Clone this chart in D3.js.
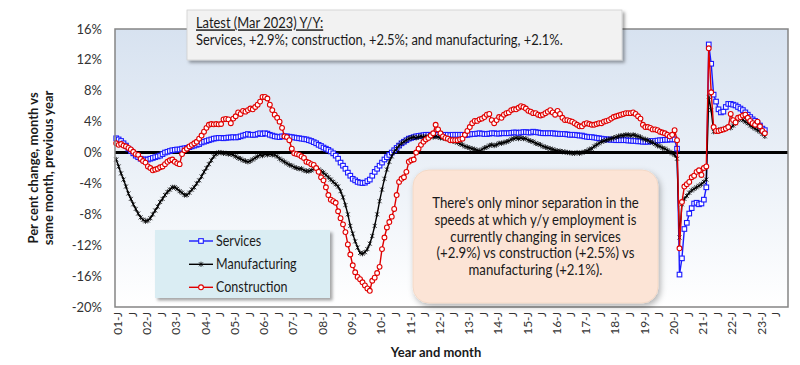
<!DOCTYPE html>
<html><head><meta charset="utf-8">
<script src="https://cdn.jsdelivr.net/npm/d3@7"></script>
<style>body{margin:0;background:#fff;} svg{display:block;font-family:Lato,"Open Sans",sans-serif;}</style>
</head><body><svg id="c" width="800" height="365"></svg>
<script>
// Monthly y/y % change, Jan 2001 .. Mar 2023
const services=[
1.85,1.7,1.5,1.2,0.9,0.5,0.2,-0.1,-0.4,-0.6,
-0.8,-0.9,-0.9,-0.9,-0.8,-0.7,-0.6,-0.5,-0.4,-0.2,
0.0,0.1,0.2,0.3,0.35,0.4,0.4,0.5,0.55,0.6,
0.7,0.8,0.9,1.0,1.1,1.3,1.4,1.5,1.6,1.7,
1.8,1.85,1.9,1.9,1.85,1.9,1.95,1.95,2.0,1.95,
2.0,2.1,2.2,2.3,2.4,2.3,2.3,2.3,2.4,2.5,
2.4,2.5,2.45,2.3,2.2,2.1,2.05,2.0,2.1,2.1,
2.1,2.05,2.0,1.95,1.9,1.85,1.8,1.75,1.7,1.6,
1.5,1.35,1.2,1.0,0.85,0.65,0.5,0.35,0.15,-0.1,
-0.4,-0.8,-1.3,-1.7,-2.1,-2.6,-3.0,-3.4,-3.6,-3.8,
-3.9,-3.95,-3.9,-3.7,-3.5,-3.0,-2.5,-2.1,-1.7,-1.3,
-0.9,-0.6,-0.3,0.0,0.3,0.6,0.9,1.2,1.4,1.6,
1.8,1.9,2.0,2.1,2.15,2.2,2.25,2.3,2.3,2.3,
2.3,2.35,2.3,2.3,2.25,2.3,2.3,2.25,2.3,2.3,
2.3,2.3,2.3,2.25,2.3,2.35,2.4,2.4,2.45,2.5,
2.45,2.4,2.4,2.45,2.5,2.5,2.45,2.45,2.5,2.5,
2.5,2.5,2.55,2.6,2.6,2.55,2.6,2.65,2.65,2.6,
2.6,2.7,2.65,2.6,2.55,2.5,2.5,2.5,2.5,2.5,
2.45,2.45,2.4,2.4,2.4,2.35,2.3,2.3,2.3,2.25,
2.2,2.2,2.1,2.05,2.0,2.0,1.95,1.9,1.85,1.8,
1.75,1.7,1.7,1.65,1.65,1.6,1.6,1.6,1.6,1.6,
1.55,1.55,1.5,1.5,1.45,1.45,1.4,1.4,1.4,1.45,
1.5,1.5,1.55,1.6,1.6,1.65,1.65,1.7,1.7,1.7,
0.5,-15.8,-13.7,-9.9,-9.1,-7.9,-7.2,-6.6,-6.5,-6.7,
-6.6,-6.1,-4.5,14.0,11.5,7.5,6.6,5.6,5.2,5.3,
5.9,6.3,6.3,6.2,6.1,5.9,5.7,5.5,5.2,4.9,
4.6,4.3,4.1,3.8,3.5,3.1,2.9];
const manufacturing=[
-0.9,-1.8,-2.7,-3.5,-4.4,-5.3,-6.0,-6.7,-7.3,-7.9,
-8.4,-8.7,-8.9,-8.8,-8.5,-8.0,-7.5,-7.0,-6.4,-6.0,
-5.5,-5.1,-4.8,-4.5,-4.5,-4.7,-5.0,-5.2,-5.5,-5.5,
-5.2,-4.8,-4.5,-4.0,-3.6,-3.1,-2.5,-2.0,-1.5,-1.0,
-0.5,-0.2,0.0,0.0,-0.1,-0.1,-0.2,-0.2,-0.3,-0.5,
-0.7,-0.8,-1.0,-1.1,-1.2,-1.1,-0.9,-0.7,-0.5,-0.3,
-0.4,-0.2,-0.3,-0.2,-0.3,-0.3,-0.5,-0.8,-1.0,-1.2,
-1.4,-1.6,-1.7,-1.9,-2.0,-2.1,-2.1,-2.3,-2.4,-2.4,
-2.3,-2.1,-2.0,-2.2,-2.4,-2.6,-2.9,-3.2,-3.5,-3.8,
-4.1,-4.4,-5.0,-5.8,-6.8,-8.0,-9.5,-10.5,-11.5,-12.3,
-13.0,-13.1,-12.9,-12.5,-11.8,-10.8,-9.5,-8.0,-6.3,-4.8,
-3.4,-2.2,-1.2,-0.5,0.1,0.5,0.9,1.2,1.4,1.6,
1.8,1.9,2.0,1.9,2.0,2.1,2.0,2.1,2.0,2.1,
2.0,2.1,2.0,1.9,1.9,1.8,1.8,1.7,1.5,1.4,
1.3,1.1,1.0,0.8,0.7,0.6,0.5,0.4,0.3,0.2,
0.4,0.6,0.7,0.9,1.0,0.9,1.0,1.2,1.2,1.3,
1.4,1.5,1.7,1.8,1.9,1.8,1.9,1.8,1.8,1.6,
1.5,1.4,1.2,1.1,1.0,0.8,0.7,0.6,0.5,0.4,
0.3,0.2,0.2,0.1,0.1,0.0,0.0,-0.1,-0.1,0.0,
-0.1,0.0,0.1,0.2,0.4,0.5,0.8,1.0,1.2,1.4,
1.5,1.6,1.7,1.8,1.9,2.0,2.1,2.2,2.2,2.3,
2.3,2.2,2.3,2.2,2.1,2.0,1.8,1.7,1.6,1.4,
1.3,1.1,0.9,0.8,0.6,0.5,0.3,0.1,-0.1,-0.3,
-0.8,-11.0,-6.7,-6.0,-5.6,-5.2,-4.9,-4.7,-4.5,-4.3,
-4.1,-3.8,-3.5,7.2,5.5,2.7,2.8,2.9,3.0,3.0,
3.2,3.3,3.2,3.5,3.8,4.2,4.4,4.2,4.0,3.8,
3.5,3.3,3.1,2.9,2.7,2.4,2.1];
const construction=[
1.2,1.0,1.1,0.9,0.8,0.6,0.4,0.1,-0.2,-0.3,
-0.8,-1.1,-1.3,-1.8,-2.0,-2.3,-2.2,-2.1,-1.9,-1.8,
-1.5,-1.2,-1.0,-0.9,-1.2,-1.4,-1.5,-0.2,0.3,0.5,
0.8,1.0,1.2,1.4,1.8,2.2,2.7,3.2,3.6,3.7,
3.65,3.7,3.65,3.7,4.3,4.35,4.3,3.8,4.4,4.7,
5.2,5.0,5.4,5.3,5.5,5.7,5.6,5.9,6.2,6.6,
7.2,7.2,7.0,6.2,5.5,4.9,4.5,4.0,3.2,2.1,
2.0,1.6,0.5,-0.1,-0.2,-0.3,-0.5,-0.7,-1.2,-1.3,
-1.5,-1.6,-2.0,-2.5,-3.2,-3.6,-4.5,-5.5,-6.1,-6.3,
-6.5,-7.6,-8.5,-9.3,-10.3,-11.9,-13.2,-14.6,-15.5,-16.1,
-16.4,-16.8,-17.2,-17.6,-17.9,-16.6,-16.2,-15.6,-14.8,-12.5,
-11.0,-9.7,-9.0,-8.3,-7.3,-5.5,-3.8,-3.4,-3.2,-2.5,
-1.2,-1.0,-0.9,0.0,0.5,1.0,1.4,1.7,1.9,2.2,
2.5,3.6,3.0,2.5,2.1,1.9,1.8,1.6,1.6,1.6,
1.6,1.7,1.8,2.3,2.8,3.3,3.8,4.1,4.1,4.3,
4.4,4.6,4.9,5.0,4.2,3.8,4.2,4.6,4.5,4.9,
5.1,5.2,5.5,5.6,5.6,5.8,6.0,5.9,5.7,5.4,
5.3,5.1,5.1,4.9,4.8,4.9,5.1,5.3,5.5,5.2,
4.9,5.4,5.0,4.5,4.2,4.2,4.1,4.0,3.8,3.6,
3.4,3.4,3.7,3.8,3.7,3.6,3.6,3.7,3.8,3.8,
4.0,4.1,4.2,4.4,4.6,4.7,4.8,4.9,5.0,5.1,
5.1,5.1,5.2,5.0,4.7,4.4,3.6,3.3,3.3,3.2,
3.0,3.0,2.9,2.7,2.6,2.5,2.3,2.1,2.3,2.9,
1.6,-12.4,-6.4,-4.4,-4.1,-3.8,-3.2,-3.0,-2.5,-2.3,
-2.9,-2.0,-1.8,13.5,7.8,3.3,2.8,2.8,2.9,3.0,
3.1,3.3,5.0,4.2,3.9,4.5,4.6,4.8,4.9,4.5,
4.1,3.8,3.6,4.0,3.4,2.8,2.5];
const xTickLabels=["01-J","J","02-J","J","03-J","J","04-J","J","05-J","J","06-J","J",
"07-J","J","08-J","J","09-J","J","10-J","J","11-J","J","12-J","J","13-J","J","14-J","J",
"15-J","J","16-J","J","17-J","J","18-J","J","19-J","J","20-J","J","21-J","J","22-J","J","23-J","J"];
const yTicks=[16,12,8,4,0,-4,-8,-12,-16,-20];
const seriesNames=["Services","Manufacturing","Construction"];
const seriesColors=["#1a1aff","#000000","#e00000"];
const titleLines=["Latest (Mar 2023) Y/Y:","Services, +2.9%; construction, +2.5%; and manufacturing, +2.1%."];
const noteLines=["There's only minor separation in the","speeds at which y/y employment is","currently changing in services","(+2.9%) vs construction (+2.5%) vs","manufacturing (+2.1%)."];
const yTitle=["Per cent change, month vs","same month, previous year"];
const xTitle="Year and month";

const svg=d3.select("#c");
const L=115,R=788,T=29,B=307;
const x=d3.scaleLinear().domain([-0.5,275.5]).range([L,R]);
const y=d3.scaleLinear().domain([-20,16]).range([B,T]);

const defs=svg.append("defs");
const g=defs.append("linearGradient").attr("id","bg").attr("x1",0).attr("y1",0).attr("x2",0).attr("y2",1);
g.append("stop").attr("offset","0%").attr("stop-color","#d7e2f0");
g.append("stop").attr("offset","100%").attr("stop-color","#ffffff");
const f=defs.append("filter").attr("id","sh").attr("x","-10%").attr("y","-10%").attr("width","130%").attr("height","140%");
f.append("feDropShadow").attr("dx",2.5).attr("dy",2.5).attr("stdDeviation",1.8).attr("flood-color","#000").attr("flood-opacity",0.35);
const f2=defs.append("filter").attr("id","sh2").attr("x","-10%").attr("y","-10%").attr("width","130%").attr("height","130%");
f2.append("feDropShadow").attr("dx",2).attr("dy",3).attr("stdDeviation",3).attr("flood-color","#000").attr("flood-opacity",0.3);

// horizontally squeeze a group of text so that a reference text gets the target width
function squeeze(groupSel, refNode, target, ox){
  const w=refNode.getComputedTextLength();
  const s=target/w;
  groupSel.attr("transform",`translate(${ox},0) scale(${s},1) translate(${-ox},0)`);
}

// plot area
svg.append("rect").attr("x",L).attr("y",T).attr("width",R-L).attr("height",B-T).attr("fill","url(#bg)");

// y ticks
svg.append("g").selectAll("text").data(yTicks).join("text")
  .attr("x",L-13).attr("y",d=>y(d)).attr("dy","0.35em").attr("text-anchor","end")
  .attr("font-size",13).attr("fill","#333").text(d=>d+"%");

// x ticks
svg.append("g").selectAll("text").data(xTickLabels).join("text")
  .attr("transform",(d,i)=>`translate(${x(i*6)+1.5},${B+5}) rotate(-90)`)
  .attr("dy","0.35em").attr("text-anchor","end").attr("font-size",12).attr("fill","#333").text(d=>d);

// zero line
svg.append("line").attr("x1",L).attr("x2",R).attr("y1",y(0)).attr("y2",y(0)).attr("stroke","#000").attr("stroke-width",3);

const line=d3.line().x((d,i)=>x(i)).y(d=>y(d));
const allSeries=[services,manufacturing,construction];
function marker(gsel,k,px,py){
  if(k===0){
    gsel.append("rect").attr("x",px-2.3).attr("y",py-2.3).attr("width",4.6).attr("height",4.6)
      .attr("fill","#fff").attr("stroke",seriesColors[0]).attr("stroke-width",1.1);
  } else if(k===1){
    gsel.append("path").attr("d",`M${px-2},${py-2}L${px+2},${py+2}M${px-2},${py+2}L${px+2},${py-2}M${px},${py-2.6}L${px},${py+2.6}`)
      .attr("stroke","#000").attr("stroke-width",0.8).attr("fill","none");
  } else {
    gsel.append("circle").attr("cx",px).attr("cy",py).attr("r",2.4)
      .attr("fill","#fff").attr("stroke",seriesColors[2]).attr("stroke-width",1.1);
  }
}
allSeries.forEach((s,k)=>{
  const gs=svg.append("g");
  gs.append("path").datum(s).attr("d",line).attr("fill","none").attr("stroke",seriesColors[k]).attr("stroke-width",1.4);
  s.forEach((v,i)=>marker(gs,k,x(i),y(v)));
});

// frame
svg.append("rect").attr("x",L).attr("y",T).attr("width",R-L).attr("height",B-T).attr("fill","none").attr("stroke","#858585").attr("stroke-width",1.5);

// axis titles
const yt=svg.append("g").attr("font-weight","bold").attr("fill","#1a1a1a");
yTitle.forEach((t,j)=>{
  yt.append("text").attr("transform",`translate(${38+j*15},168) rotate(-90)`).attr("text-anchor","middle").attr("font-size",13).text(t);
});
svg.append("text").attr("x",436).attr("y",357).attr("text-anchor","middle").attr("font-weight","bold").attr("font-size",13).attr("fill","#1a1a1a").text(xTitle);

// title box
svg.append("rect").attr("x",187).attr("y",10).attr("width",435).attr("height",50).attr("fill","#f2f2f2").attr("stroke","#d0d0d0").attr("stroke-width",0.8).attr("filter","url(#sh)");
const tg=svg.append("g").attr("fill","#1a1a1a").attr("font-size",14.5);
tg.append("text").attr("x",196).attr("y",28.3).attr("text-decoration","underline").text(titleLines[0]);
const t2=tg.append("text").attr("x",196).attr("y",45).text(titleLines[1]);
squeeze(tg,t2.node(),367,196);

// legend
svg.append("rect").attr("x",155).attr("y",230).attr("width",175).attr("height",68).attr("fill","#daedf3").attr("filter","url(#sh)");
const lg=svg.append("g");
const legY=[241,264.3,287.3];
const lt=svg.append("g").attr("fill","#1a1a1a").attr("font-size",14.5);
seriesNames.forEach((n,k)=>{
  lg.append("line").attr("x1",189).attr("x2",213).attr("y1",legY[k]).attr("y2",legY[k]).attr("stroke",seriesColors[k]).attr("stroke-width",1.4);
  marker(lg,k,201,legY[k]);
  lt.append("text").attr("x",216).attr("y",legY[k]).attr("dy","0.35em").text(n);
});
squeeze(lt,lt.selectAll("text").nodes()[1],80.7,216);

// annotation
svg.append("rect").attr("x",413).attr("y",170).attr("width",245).attr("height",133).attr("rx",16).attr("fill","#fce4d6").attr("stroke","#f3d5c2").attr("stroke-width",0.8).attr("filter","url(#sh2)");
const ng=svg.append("g").attr("fill","#1a1a1a").attr("text-anchor","middle").attr("font-size",14.5);
const nt=ng.selectAll("text").data(noteLines).join("text").attr("x",535.5).attr("y",(d,i)=>203+i*16.8).attr("dy","0.35em").text(d=>d);
squeeze(ng,nt.nodes()[0],206.6,535.5);
</script></body></html>
